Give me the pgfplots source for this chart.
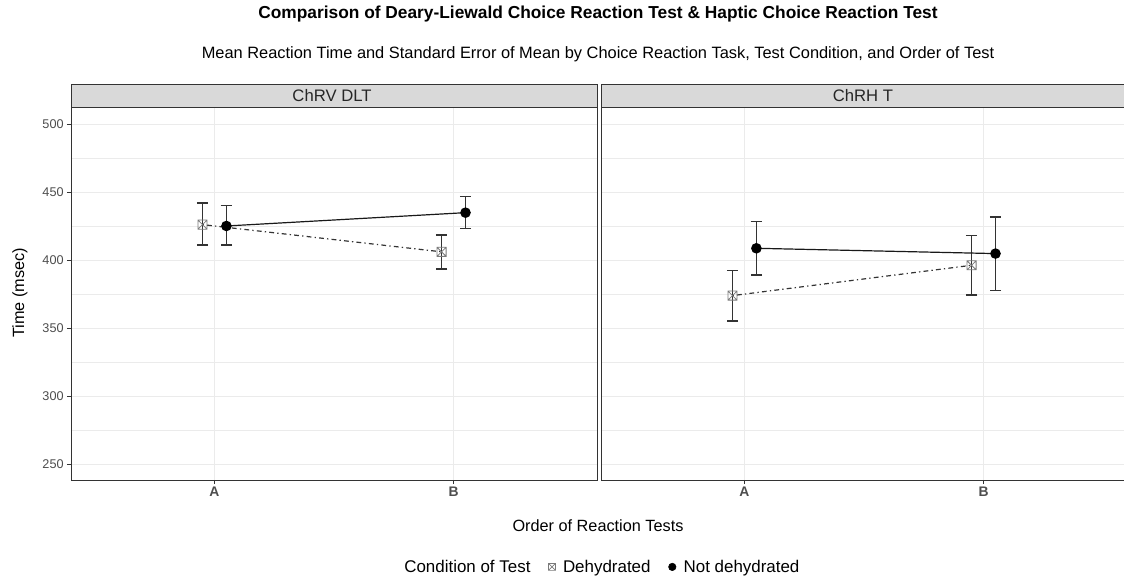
\documentclass[border=0pt]{standalone}
\usepackage{pgfplots}
\pgfplotsset{compat=1.18}
\usepackage{pgfplotstable}
\usepackage{fontspec}
\setmainfont{Liberation Sans}
\definecolor{gridc}{HTML}{EBEBEB}
\definecolor{gtwenty}{HTML}{333333}
\definecolor{gthirty}{HTML}{4D4D4D}
\definecolor{stripc}{HTML}{D9D9D9}
\definecolor{sqgrey}{HTML}{7A7A7A}

\pgfdeclareplotmark{squarex}{%
  \pgfpathrectangle{\pgfqpoint{-\pgfplotmarksize}{-\pgfplotmarksize}}{\pgfqpoint{2\pgfplotmarksize}{2\pgfplotmarksize}}%
  \pgfpathmoveto{\pgfqpoint{-\pgfplotmarksize}{-\pgfplotmarksize}}\pgfpathlineto{\pgfqpoint{\pgfplotmarksize}{\pgfplotmarksize}}%
  \pgfpathmoveto{\pgfqpoint{-\pgfplotmarksize}{\pgfplotmarksize}}\pgfpathlineto{\pgfqpoint{\pgfplotmarksize}{-\pgfplotmarksize}}%
  \pgfusepathqstroke}

% Left panel: ChRV DLT
\pgfplotstableread{
x y ep em
0.95 426 16 15
1.95 406 12.5 12.5
}\dehydL
\pgfplotstableread{
x y ep em
1.05 425 15 14
2.05 434.8 12 11.8
}\notdehydL
% Right panel: ChRH T
\pgfplotstableread{
x y ep em
0.95 373.8 18.5 18.5
1.95 396.1 22 22
}\dehydR
\pgfplotstableread{
x y ep em
1.05 408.6 19.6 19.6
2.05 404.7 27 27
}\notdehydR

\pgfplotsset{
  panel/.style={
    scale only axis, height=279.75pt, width=394.5pt,
    xmin=0.4, xmax=2.6, ymin=238.2, ymax=512.5,
    xtick={1,2}, xticklabels={\textbf{A},\textbf{B}},
    ytick={250,300,...,500}, minor ytick={275,325,...,475},
    xtick pos=bottom, ytick pos=left,
    grid=both,
    major grid style={gridc, line width=0.6pt},
    minor grid style={gridc, line width=0.3pt},
    axis line style={gtwenty, line width=0.5pt},
    tick align=outside, major tick length=3pt, minor tick length=0pt,
    tick style={gtwenty, line width=0.5pt},
    yticklabel style={gthirty, font=\fontsize{9.5}{10}\selectfont, xshift=1pt},
    xticklabel style={gthirty, font=\fontsize{10.4}{12}\selectfont, yshift=1pt},
    /pgf/number format/assume math mode=true,
    clip=false,
  },
  ebars/.style={
    error bars/y dir=both, error bars/y explicit,
    error bars/error bar style={gtwenty, line width=1.1pt, solid},
    error bars/error mark options={rotate=90, mark size=4.3pt, gtwenty, line width=1.1pt, solid},
  },
  dehyd/.style={ebars, color=gtwenty, line width=0.9pt, dash pattern=on 1pt off 2.4pt on 3.6pt off 2.4pt,
    mark=squarex, mark size=3.4pt, mark options={solid, draw=sqgrey, line width=0.6pt, fill=none}},
  notdehyd/.style={ebars, color=black!90, line width=0.9pt, solid,
    mark=*, mark size=3.5pt, mark options={solid, fill=black, draw=black}},
}

\begin{document}
\begin{tikzpicture}[x=0.75pt, y=-0.75pt]
\path[use as bounding box] (0,0) rectangle (1124,585);

\node[anchor=base, font=\bfseries\fontsize{13}{15}\selectfont] at (598,19) {Comparison of Deary-Liewald Choice Reaction Test \& Haptic Choice Reaction Test};
\node[anchor=base, font=\fontsize{12.3}{14}\selectfont] at (598,59) {Mean Reaction Time and Standard Error of Mean by Choice Reaction Task, Test Condition, and Order of Test};

\begin{axis}[panel, at={(53.25pt,-360pt)}, anchor=south west]
\addplot[dehyd] table[x=x, y=y, y error plus=ep, y error minus=em] {\dehydL};
\addplot[notdehyd] table[x=x, y=y, y error plus=ep, y error minus=em] {\notdehydL};
\end{axis}

\begin{axis}[panel, at={(450.75pt,-360pt)}, anchor=south west,
  yticklabels={}, ytick style={draw opacity=0},
  legend style={at={(-0.003,-0.233)}, anchor=center, draw=none, fill=none,
    font=\fontsize{12.7}{14}\selectfont, legend columns=3,
    /tikz/every even column/.append style={column sep=11.5pt},
    /tikz/every odd column/.append style={column sep=3.7pt}},
  legend cell align=left]
\addplot[dehyd, forget plot] table[x=x, y=y, y error plus=ep, y error minus=em] {\dehydR};
\addplot[notdehyd, forget plot] table[x=x, y=y, y error plus=ep, y error minus=em] {\notdehydR};
\addlegendimage{empty legend}
\addlegendentry{Condition of Test}
\addlegendimage{only marks, mark=squarex, mark size=2.6pt, mark options={draw=sqgrey, line width=0.5pt}}
\addlegendentry{Dehydrated}
\addlegendimage{only marks, mark=*, mark size=2.8pt, mark options={fill=black, draw=black}}
\addlegendentry{Not dehydrated}
\end{axis}

\draw[fill=stripc, draw=gtwenty, line width=0.5pt] (71,84) rectangle (597,107);
\node[anchor=base, font=\fontsize{12.5}{14}\selectfont, text=black!85] at (332,102) {ChRV DLT};
\draw[fill=stripc, draw=gtwenty, line width=0.5pt] (601,84) rectangle (1130,107);
\node[anchor=base, font=\fontsize{12.5}{14}\selectfont, text=black!85] at (863,102) {ChRH T};

\node[rotate=90, font=\fontsize{12.2}{14}\selectfont] at (20,293) {Time (msec)};
\node[anchor=base, font=\fontsize{12.2}{14}\selectfont] at (598,531) {Order of Reaction Tests};
\end{tikzpicture}
\end{document}
